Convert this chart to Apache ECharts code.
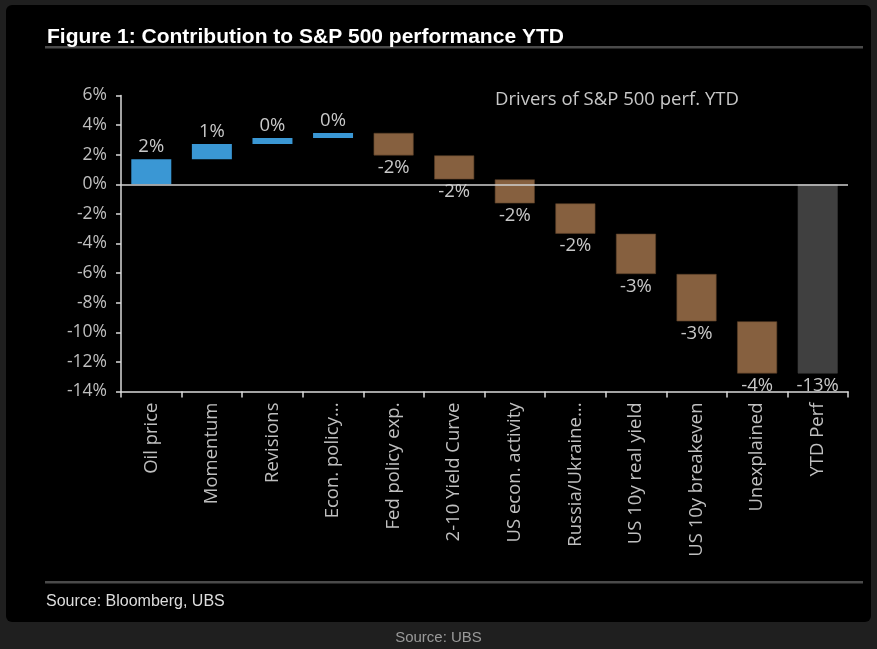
<!DOCTYPE html>
<html>
<head>
<meta charset="utf-8">
<script src="https://cdn.jsdelivr.net/npm/echarts@6/dist/echarts.min.js"></script>
<style>
  html, body { margin: 0; padding: 0; background: #1f1f1f; }
  #main { width: 877px; height: 649px; }
</style>
</head>
<body>
<div id="main"></div>
<script>
  // categories and contributions (pp)
  const categories = ['Oil price', 'Momentum', 'Revisions', 'Econ. policy...', 'Fed policy exp.',
    '2-10 Yield Curve', 'US econ. activity', 'Russia/Ukraine...', 'US 10y real yield',
    'US 10y breakeven', 'Unexplained', 'YTD Perf']
  const contributions = [1.70, 1.02, 0.40, 0.35, -1.52, -1.62, -1.62, -2.05, -2.72, -3.20, -3.52]
  const ytdPerf = -12.78
  const yTicks = [-14, 6, 2] // min, max, interval

  // waterfall: invisible base + visible delta, stacked
  let base = []
  let delta = []
  let run = 0
  contributions.forEach(v => {
    base.push(run)
    delta.push(v)
    run += v
  })
  base.push(0)
  delta.push(ytdPerf)

  const blue = '#3a97d4'
  const brown = '#86603f'
  const grey = '#404040'

  let deltaData = delta.map((v, i) => {
    let last = i === delta.length - 1
    return {
      value: v,
      itemStyle: {
        color: last ? grey : (v >= 0 ? blue : brown),
        borderColor: last ? grey : (v >= 0 ? blue : '#5a3f28'),
        borderWidth: v >= 0 ? 0 : 0.6
      },
      label: { position: v >= 0 ? 'top' : 'bottom' }
    }
  })

  const myechart = echarts.init(document.getElementById('main'))
  const option = {
    backgroundColor: '#1f1f1f',
    animation: false,
    title: {
      text: 'Figure 1: Contribution to S&P 500 performance YTD',
      left: 42,
      top: 22,
      textStyle: {
        color: '#ffffff',
        fontFamily: '"Liberation Sans", sans-serif',
        fontWeight: 'bold',
        fontSize: 21
      }
    },
    graphic: [
      { type: 'rect', z: -10, shape: { x: 6, y: 5, width: 865, height: 617, r: 6 }, style: { fill: '#000000' } },
      { type: 'rect', shape: { x: 45, y: 46, width: 818, height: 2.5 }, style: { fill: '#4a4a4a' } },
      { type: 'rect', shape: { x: 45, y: 581, width: 818, height: 2.5 }, style: { fill: '#4a4a4a' } },
      {
        type: 'text', left: 495, top: 90,
        style: { text: 'Drivers of S&P 500 perf. YTD', fill: '#c8c8c8', font: '18.5px "Open Sans", sans-serif' }
      },
      {
        type: 'text', left: 46, top: 594,
        style: { text: 'Source: Bloomberg, UBS', fill: '#dddddd', font: '16px "Liberation Sans", sans-serif' }
      },
      {
        type: 'text', left: 'center', top: 630,
        style: { text: 'Source: UBS', fill: '#9a9a9a', font: '15px "Liberation Sans", sans-serif' }
      }
    ],
    grid: {
      left: 121,
      right: 29,
      top: 95.5,
      bottom: 257.5,
      containLabel: false
    },
    xAxis: {
      type: 'category',
      data: categories,
      axisLine: { onZero: false, lineStyle: { color: '#d9d9d9', width: 1.5 } },
      axisTick: { show: true, length: 6, lineStyle: { color: '#d9d9d9', width: 1.5 } },
      axisLabel: {
        rotate: 90,
        interval: 0,
        margin: 11,
        color: '#bfbfbf',
        fontSize: 18.5,
        fontFamily: '"Open Sans", sans-serif'
      }
    },
    yAxis: {
      type: 'value',
      min: yTicks[0],
      max: yTicks[1],
      interval: yTicks[2],
      splitLine: { show: false },
      axisLine: { show: true, lineStyle: { color: '#d9d9d9', width: 1.5 } },
      axisTick: { show: true, length: 5, lineStyle: { color: '#d9d9d9', width: 1.5 } },
      axisLabel: {
        formatter: '{value}%',
        color: '#bfbfbf',
        fontSize: 17.5,
        margin: 14,
        fontFamily: '"Open Sans", sans-serif'
      }
    },
    series: [
      {
        name: 'base',
        type: 'bar',
        stack: 'w',
        stackStrategy: 'all',
        barWidth: '66%',
        silent: true,
        itemStyle: { color: 'transparent' },
        data: base,
        markLine: {
          silent: true,
          symbol: 'none',
          label: { show: false },
          lineStyle: { color: '#d0d0d0', width: 1.5, type: 'solid' },
          data: [{ yAxis: 0 }]
        }
      },
      {
        name: 'delta',
        type: 'bar',
        stack: 'w',
        stackStrategy: 'all',
        barWidth: '66%',
        label: {
          show: true,
          color: '#c8c8c8',
          fontSize: 18.5,
          distance: 3,
          fontFamily: '"Open Sans", sans-serif',
          formatter: p => {
            let r = Math.round(p.value)
            if (Object.is(r, -0)) r = 0
            return r + '%'
          }
        },
        data: deltaData
      }
    ]
  }
  myechart.setOption(option)
</script>
</body>
</html>
